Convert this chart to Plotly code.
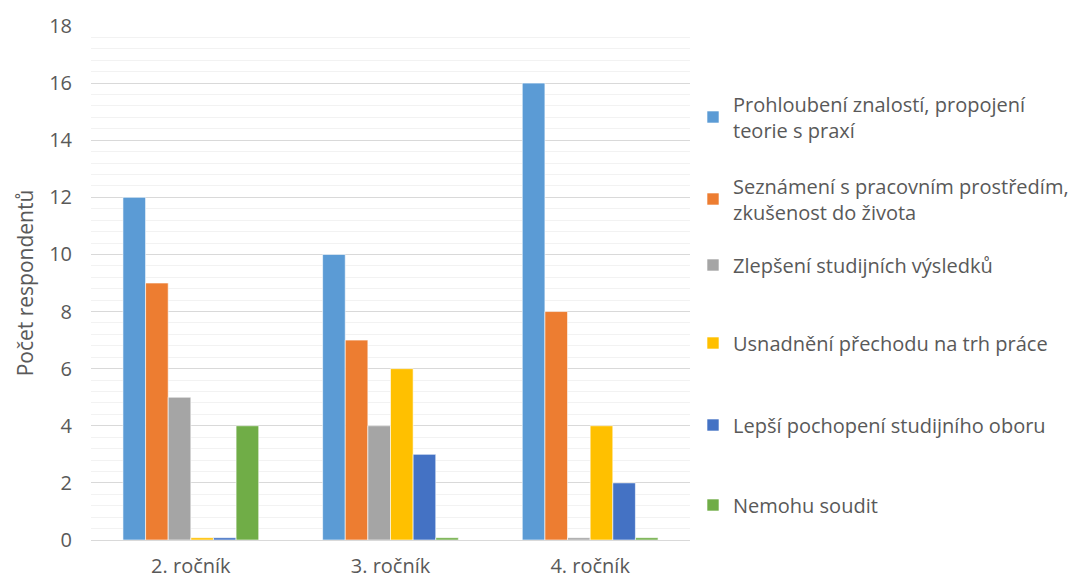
import plotly.graph_objects as go

categories = ["2. ročník", "3. ročník", "4. ročník"]
series_names = [
    "Prohloubení znalostí, propojení<br>teorie s praxí",
    "Seznámení s pracovním prostředím,<br>zkušenost do života",
    "Zlepšení studijních výsledků",
    "Usnadnění přechodu na trh práce",
    "Lepší pochopení studijního oboru",
    "Nemohu soudit",
]
prohloubeni = [12, 10, 16]
seznameni = [9, 7, 8]
zlepseni = [5, 4, 0]
usnadneni = [0, 6, 4]
pochopeni = [0, 3, 2]
nemohu = [4, 0, 0]
series_values = [prohloubeni, seznameni, zlepseni, usnadneni, pochopeni, nemohu]
colors = ["#5B9BD5", "#ED7D31", "#A5A5A5", "#FFC000", "#4472C4", "#70AD47"]
y_ticks = [0, 2, 4, 6, 8, 10, 12, 14, 16, 18]

# legend entry vertical centres (container pixels)
legend_py = [117, 199, 265, 343, 425, 505]

W, H = 1085, 579
font_fam = "Open Sans, Noto Sans, sans-serif"
txt_col = "#595959"
fs = 20

fig = go.Figure()
layout_legends = {}
for i, (name, vals, col) in enumerate(zip(series_names, series_values, colors)):
    lname = "legend" if i == 0 else f"legend{i+1}"
    # zero values are shown by Excel as a thin stub
    shown = [v if v > 0 else 0.08 for v in vals]
    fig.add_trace(go.Bar(
        x=categories, y=shown, name=name, customdata=vals,
        hovertemplate="%{x}: %{customdata}<extra></extra>",
        marker=dict(color=col, line=dict(color="rgba(255,255,255,0.6)", width=1)),
        legend=lname,
    ))
    layout_legends[lname] = dict(
        xref="container", yref="container",
        x=693 / W, y=1 - legend_py[i] / H,
        xanchor="left", yanchor="middle",
        bgcolor="rgba(0,0,0,0)",
        font=dict(family=font_fam, size=fs, color=txt_col),
        itemwidth=30,
    )

fig.update_layout(
    width=W, height=H,
    barmode="group", bargap=0.32, bargroupgap=0,
    plot_bgcolor="white", paper_bgcolor="white",
    margin=dict(l=91, r=W - 690, t=26, b=H - 540, autoexpand=False),
    showlegend=True,
    font=dict(family=font_fam, size=fs, color=txt_col),
    **layout_legends,
)
fig.update_yaxes(
    range=[0, 18], tickvals=y_ticks,
    showgrid=True, gridcolor="#D9D9D9", gridwidth=1,
    minor=dict(dtick=0.4, showgrid=True, gridcolor="#F2F2F2", gridwidth=1),
    zeroline=False, showline=False, automargin=False,
    ticklabelstandoff=18,
    tickfont=dict(size=fs, color=txt_col),
    title=dict(text="Počet respondentů", font=dict(size=21, color=txt_col), standoff=9),
)
fig.update_xaxes(
    showline=True, linecolor="#D9D9D9", linewidth=1,
    showgrid=False, ticks="", automargin=False,
    ticklabelstandoff=8,
    tickfont=dict(size=fs, color=txt_col),
)

fig.write_html("out.html", config={"displayModeBar": False},
               post_script="document.body.style.margin='0';")
